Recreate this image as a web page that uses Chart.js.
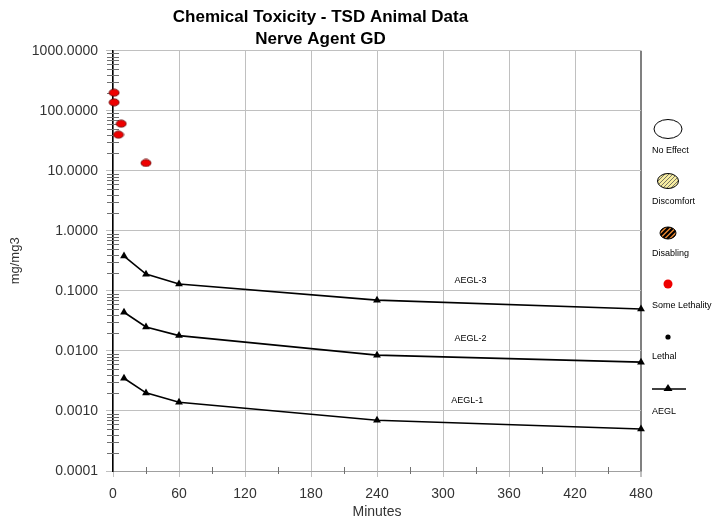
<!DOCTYPE html>
<html>
<head>
<meta charset="utf-8">
<title>Chemical Toxicity - TSD Animal Data</title>
<script src="https://cdn.jsdelivr.net/npm/chart.js@4.4.1/dist/chart.umd.min.js"></script>
<style>
  html, body { margin: 0; padding: 0; background: #fff; }
</style>
</head>
<body>
<canvas id="tox-chart" width="717" height="521"></canvas>
<script>
// AEGL guideline values (mg/m3) at the standard exposure times (minutes)
const aeglTimes = [10, 30, 60, 240, 480];
const aegl1 = [0.0035, 0.0020, 0.0014, 0.00070, 0.00050];
const aegl2 = [0.044, 0.025, 0.018, 0.0085, 0.0065];
const aegl3 = [0.38, 0.19, 0.13, 0.070, 0.050];

// Animal data points - Some Lethality
const lethalityTimes = [1, 1, 7.5, 5, 30];
const lethalityValues = [200, 138, 61, 40, 13.5];

// Axis ticks
const yDecades = [0.0001, 0.001, 0.01, 0.1, 1, 10, 100, 1000];
const xTicks = [0, 30, 60, 90, 120, 150, 180, 210, 240, 270, 300, 330, 360, 390, 420, 450, 480];

// Labels written next to the AEGL curves
const aeglNames = ['AEGL-3', 'AEGL-2', 'AEGL-1'];
const aeglNameTimes = [325, 325, 322];
const aeglNameValues = [0.15, 0.0162, 0.0015];

const legendLabels = ['No Effect', 'Discomfort', 'Disabling', 'Some Lethality', 'Lethal', 'AEGL'];

Chart.defaults.font.family = '"Liberation Sans", Arial, sans-serif';
Chart.defaults.color = '#222';

function isDecade(v) {
    const l = Math.log10(v);
    return Math.abs(l - Math.round(l)) < 1e-9;
}

function toPoints(xs, ys) {
    return xs.map((x, i) => ({ x: x, y: ys[i] }));
}

// red ellipse marker for the lethality points
function makeEllipseMarker() {
    const c = document.createElement('canvas');
    c.width = 12;
    c.height = 9;
    const g = c.getContext('2d');
    g.beginPath();
    g.ellipse(6, 4.5, 5, 3.6, 0, 0, Math.PI * 2);
    g.fillStyle = '#ee0000';
    g.fill();
    g.lineWidth = 0.8;
    g.strokeStyle = '#600';
    g.stroke();
    return c;
}

function aeglDataset(label, values) {
    return {
        label: label,
        data: toPoints(aeglTimes, values),
        showLine: true,
        clip: false,
        borderColor: '#000',
        borderWidth: 1.6,
        backgroundColor: '#000',
        pointStyle: 'triangle',
        pointRadius: 4.5,
        pointBorderWidth: 0
    };
}

// minor tick marks crossing the axes
const minorTicks = {
    id: 'minorTicks',
    beforeDatasetsDraw(chart) {
        const ctx = chart.ctx;
        const xs = chart.scales.x, ys = chart.scales.y;
        const area = chart.chartArea;
        ctx.save();
        ctx.strokeStyle = '#707070';
        ctx.lineWidth = 1;
        ys.ticks.forEach(t => {
            if (isDecade(t.value)) return;
            const y = Math.round(ys.getPixelForValue(t.value)) + 0.5;
            ctx.beginPath();
            ctx.moveTo(area.left - 6, y);
            ctx.lineTo(area.left + 6, y);
            ctx.stroke();
        });
        xs.ticks.forEach(t => {
            if (t.value % 60 === 0) return;
            const x = Math.round(xs.getPixelForValue(t.value)) + 0.5;
            ctx.beginPath();
            ctx.moveTo(x, area.bottom - 4);
            ctx.lineTo(x, area.bottom + 3);
            ctx.stroke();
        });
        ctx.restore();
    }
};

// AEGL-1/2/3 names on the plot
const curveNames = {
    id: 'curveNames',
    afterDatasetsDraw(chart) {
        const ctx = chart.ctx;
        ctx.save();
        ctx.font = '9px "Liberation Sans", Arial, sans-serif';
        ctx.fillStyle = '#000';
        ctx.textAlign = 'center';
        ctx.textBaseline = 'middle';
        aeglNames.forEach((name, i) => {
            ctx.fillText(name,
                chart.scales.x.getPixelForValue(aeglNameTimes[i]),
                chart.scales.y.getPixelForValue(aeglNameValues[i]));
        });
        ctx.restore();
    }
};

function ellipsePath(ctx, x, y, rx, ry) {
    ctx.beginPath();
    ctx.ellipse(x, y, rx, ry, 0, 0, Math.PI * 2);
}

function stripes(ctx, x, y, rx, ry, gap, width, color) {
    ctx.save();
    ellipsePath(ctx, x, y, rx, ry);
    ctx.clip();
    ctx.strokeStyle = color;
    ctx.lineWidth = width;
    for (let d = -30; d <= 30; d += gap) {
        ctx.beginPath();
        ctx.moveTo(x + d - 15, y + 15);
        ctx.lineTo(x + d + 15, y - 15);
        ctx.stroke();
    }
    ctx.restore();
}

// legend on the right: symbol above its label
const sideLegend = {
    id: 'sideLegend',
    afterDraw(chart) {
        const ctx = chart.ctx;
        const cx = 668;
        ctx.save();
        ctx.strokeStyle = '#000';
        ctx.lineWidth = 1;

        // No Effect
        ellipsePath(ctx, cx, 129, 14, 9.5);
        ctx.fillStyle = '#fff';
        ctx.fill();
        ctx.stroke();

        // Discomfort
        ellipsePath(ctx, cx, 181, 10.5, 7.5);
        ctx.fillStyle = '#f7eda0';
        ctx.fill();
        stripes(ctx, cx, 181, 10.5, 7.5, 4, 0.8, '#555');
        ellipsePath(ctx, cx, 181, 10.5, 7.5);
        ctx.stroke();

        // Disabling
        ellipsePath(ctx, cx, 233, 8, 6);
        ctx.fillStyle = '#f08a30';
        ctx.fill();
        stripes(ctx, cx, 233, 8, 6, 5, 2.2, '#000');
        ellipsePath(ctx, cx, 233, 8, 6);
        ctx.stroke();

        // Some Lethality
        ellipsePath(ctx, cx, 284, 4.5, 4.5);
        ctx.fillStyle = '#ee0000';
        ctx.fill();

        // Lethal
        ellipsePath(ctx, cx, 337, 2.6, 2.6);
        ctx.fillStyle = '#000';
        ctx.fill();

        // AEGL
        ctx.lineWidth = 1.6;
        ctx.beginPath();
        ctx.moveTo(652, 389);
        ctx.lineTo(686, 389);
        ctx.stroke();
        ctx.beginPath();
        ctx.moveTo(cx, 384);
        ctx.lineTo(cx + 4.5, 391);
        ctx.lineTo(cx - 4.5, 391);
        ctx.closePath();
        ctx.fill();

        ctx.font = '9px "Liberation Sans", Arial, sans-serif';
        ctx.fillStyle = '#000';
        ctx.textAlign = 'left';
        ctx.textBaseline = 'middle';
        const labelY = [151, 202, 254, 306, 357, 412];
        legendLabels.forEach((t, i) => ctx.fillText(t, 652, labelY[i]));
        ctx.restore();
    }
};

function initToxChart() {
    const ctx = document.getElementById('tox-chart').getContext('2d');
    new Chart(ctx, {
        type: 'scatter',
        data: {
            datasets: [
                aeglDataset('AEGL-3', aegl3),
                aeglDataset('AEGL-2', aegl2),
                aeglDataset('AEGL-1', aegl1),
                {
                    label: 'Some Lethality',
                    data: toPoints(lethalityTimes, lethalityValues),
                    clip: false,
                    pointStyle: makeEllipseMarker(),
                    backgroundColor: '#ee0000'
                }
            ]
        },
        options: {
            responsive: false,
            animation: false,
            layout: { padding: { left: 0, right: 76, top: 0, bottom: 0 } },
            plugins: {
                legend: { display: false },
                tooltip: { enabled: false },
                title: {
                    display: true,
                    text: ['Chemical Toxicity - TSD Animal Data', 'Nerve Agent GD'],
                    color: '#000',
                    font: { size: 17, weight: 'bold', lineHeight: 1.3 },
                    padding: { top: 6, bottom: 0.5 }
                }
            },
            scales: {
                x: {
                    type: 'linear',
                    min: 0,
                    max: 480,
                    afterBuildTicks: scale => {
                        scale.ticks = xTicks.map(v => ({ value: v }));
                    },
                    afterFit: scale => { scale.height = 50; },
                    ticks: {
                        autoSkip: false,
                        maxRotation: 0,
                        padding: 9,
                        font: { size: 14 },
                        color: '#333',
                        callback: v => (v % 60 === 0 ? String(v) : '')
                    },
                    grid: {
                        color: c => (c.tick && c.tick.value % 60 === 0 ? (c.tick.value === 480 ? '#808080' : '#c0c0c0') : 'rgba(0,0,0,0)'),
                        lineWidth: c => (c.tick && c.tick.value === 480 ? 2 : 1),
                        tickLength: 6,
                        tickColor: c => (c.tick && c.tick.value % 60 === 0 ? '#c0c0c0' : 'rgba(0,0,0,0)')
                    },
                    border: { color: '#a0a0a0', width: 1 },
                    title: {
                        display: true,
                        text: 'Minutes',
                        color: '#333',
                        font: { size: 14 },
                        padding: { top: 0, bottom: 0 }
                    }
                },
                y: {
                    type: 'logarithmic',
                    min: yDecades[0],
                    max: yDecades[yDecades.length - 1],
                    afterBuildTicks: scale => {
                        const t = [];
                        for (let i = 0; i < yDecades.length - 1; i++) {
                            for (let s = 1; s <= 9; s++) t.push({ value: s * yDecades[i] });
                        }
                        t.push({ value: yDecades[yDecades.length - 1] });
                        scale.ticks = t;
                    },
                    afterFit: scale => { scale.width = 113; },
                    ticks: {
                        autoSkip: false,
                        padding: 8,
                        font: { size: 14 },
                        color: '#333',
                        callback: v => (isDecade(v) ? Number(v).toFixed(4) : '')
                    },
                    grid: {
                        color: c => (c.tick && isDecade(c.tick.value) ? '#c0c0c0' : 'rgba(0,0,0,0)'),
                        tickLength: 7,
                        tickColor: c => (c.tick && isDecade(c.tick.value) ? '#c0c0c0' : 'rgba(0,0,0,0)')
                    },
                    border: { color: '#000', width: 1.5 },
                    title: {
                        display: true,
                        text: 'mg/mg3',
                        color: '#333',
                        font: { size: 13 },
                        padding: { top: 8, bottom: 0 }
                    }
                }
            }
        },
        plugins: [minorTicks, curveNames, sideLegend]
    });
}

document.addEventListener('DOMContentLoaded', () => {
    initToxChart();
});
</script>
</body>
</html>
